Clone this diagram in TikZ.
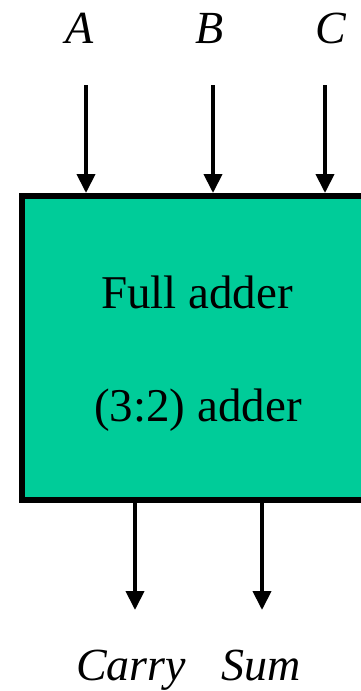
\documentclass[tikz,border=0pt]{standalone}
\usepackage{fontspec}
\setmainfont{Liberation Serif}
\usetikzlibrary{arrows.meta}
\definecolor{adderfill}{HTML}{00CC99}
\begin{document}
\begin{tikzpicture}[x=1pt,y=-1pt,
  arr/.style={line width=4pt,-{Triangle[width=18pt,length=19pt]}},
  lbl/.style={font=\fontsize{46}{46}\selectfont\itshape,anchor=base,inner sep=0pt},
  txt/.style={font=\fontsize{47}{47}\selectfont,anchor=base,inner sep=0pt},
  boxstyle/.style={draw=black,line width=6pt,fill=adderfill,inner sep=0pt,
    minimum width=378pt,minimum height=304pt}]
\useasboundingbox (0,0) rectangle (361,691);
\node[boxstyle] (box) at (211,348) {};
\node[txt] (t1) at (197,308) {Full adder};
\node[txt] (t2) at (198,421) {(3:2) adder};
\node[lbl] (A) at (80,43) {A};
\node[lbl] (B) at (210,43) {B};
\node[lbl] (C) at (331,43) {C};
\node[lbl] (carry) at (131,680) {Carry};
\node[lbl] (sum) at (261,680) {Sum};
\coordinate (a0) at (86,85);
\coordinate (b0) at (213,85);
\coordinate (c0) at (325,85);
\coordinate (k1) at (135,610);
\coordinate (s1) at (262,610);
\draw[arr] (a0) -- (a0 |- box.north);
\draw[arr] (b0) -- (b0 |- box.north);
\draw[arr] (c0) -- (c0 |- box.north);
\draw[arr] (k1 |- box.south) -- (k1);
\draw[arr] (s1 |- box.south) -- (s1);
\end{tikzpicture}
\end{document}
